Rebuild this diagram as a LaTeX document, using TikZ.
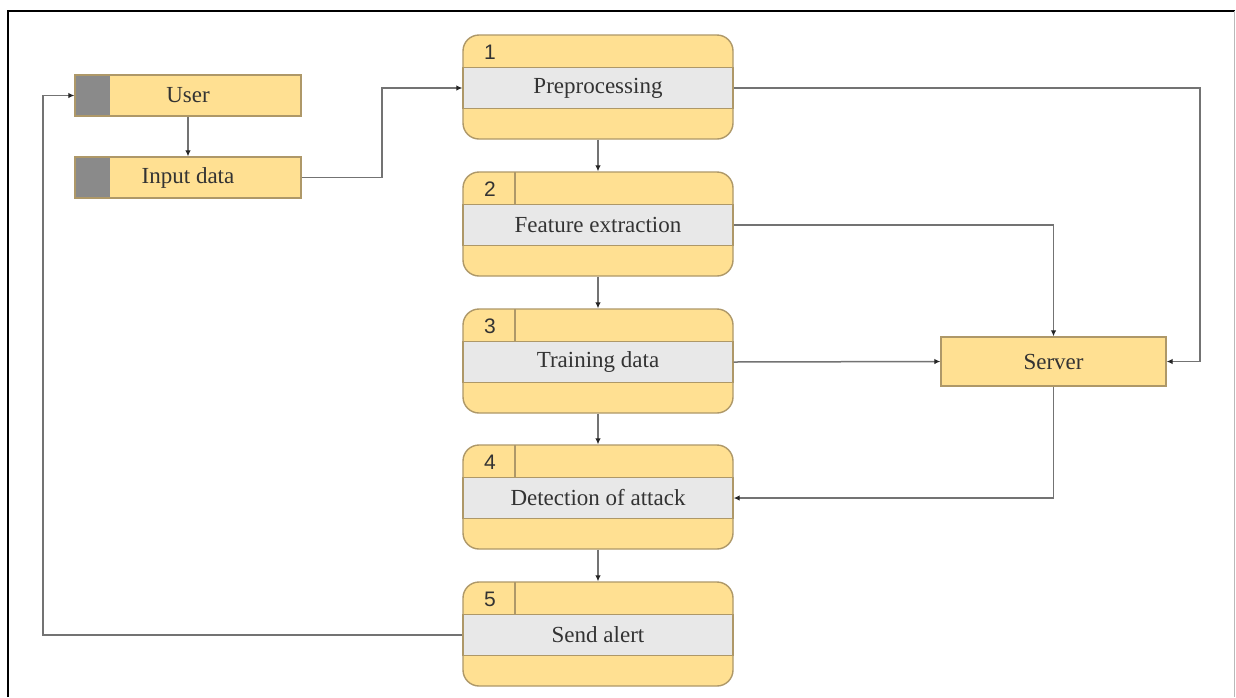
\documentclass[tikz,border=0pt]{standalone}
\usepackage{fontspec}
\setmainfont{Liberation Serif}
\newfontfamily\numfont{Liberation Sans}
\usetikzlibrary{arrows.meta}
\definecolor{boxyellow}{HTML}{FFE092}
\definecolor{boxgray}{HTML}{E8E8E8}
\definecolor{boxline}{HTML}{AE9868}
\definecolor{wire}{HTML}{737373}
\definecolor{tabgray}{HTML}{8A8A8A}
\definecolor{inktext}{HTML}{333333}
\tikzset{
  outerbox/.style={draw=boxline, line width=0.7pt, fill=boxyellow, rounded corners=8pt,
    minimum width=135pt, minimum height=52pt, inner sep=0pt},
  midband/.style={draw=boxline, line width=0.7pt, fill=boxgray, minimum width=135pt,
    minimum height=20.5pt, inner sep=0pt, text=inktext, font=\fontsize{11.5}{13}\selectfont},
  numlabel/.style={text=inktext, font=\numfont\fontsize{10.5}{12}\selectfont, inner sep=0pt},
  entity/.style={draw=boxline, line width=0.7pt, fill=boxyellow, minimum width=113pt,
    minimum height=20.5pt, inner sep=0pt, text=inktext, font=\fontsize{11.5}{13}\selectfont},
  serverbox/.style={draw=boxline, line width=0.7pt, fill=boxyellow, minimum width=112.5pt,
    minimum height=24.5pt, inner sep=0pt, text=inktext, font=\fontsize{11.5}{13}\selectfont},
  wireline/.style={draw=wire, line width=0.75pt,
    -{Latex[length=3pt,width=2.8pt,color=black!85]}},
}
% one numbered process: outer rounded box, middle band with the label, number tag
\newcommand{\procstep}[5]{% #1 name, #2 number, #3 centre y, #4 label, #5 divider (1/0)
  \node[outerbox] (b#1) at (598,#3) {};
  \node[midband] (p#1) at (598,#3+1) {#4};
  \node[numlabel] (n#1) at (490,#3-35) {#2};
  \ifnum#5=1
    \draw[boxline, line width=0.7pt] (515,#3-52) -- (515,#3-19.5);
  \fi
}
\begin{document}
\begin{tikzpicture}[x=0.5pt,y=-0.5pt]
  \useasboundingbox (0,0) rectangle (1236,697);
  \fill[white] (0,0) rectangle (1236,697);
  % frame
  \draw[black, line width=1pt] (7.5,697) -- (7.5,10.5) -- (1235,10.5);
  \draw[gray!55, line width=0.6pt] (1234.5,10.5) -- (1234.5,697);

  % external entities
  \node[entity] (user) at (188,95.5) {User};
  \fill[tabgray] (75,75) rectangle (110,116);
  \draw[boxline, line width=0.7pt] (75,75) rectangle (301,116);
  \node[entity] (input) at (188,177.5) {Input data};
  \fill[tabgray] (75,157) rectangle (110,198);
  \draw[boxline, line width=0.7pt] (75,157) rectangle (301,198);

  % process steps
  \procstep{1}{1}{87}{Preprocessing}{0}
  \procstep{2}{2}{224}{Feature extraction}{1}
  \procstep{3}{3}{361}{Training data}{1}
  \procstep{4}{4}{497}{Detection of attack}{1}
  \procstep{5}{5}{634}{Send alert}{1}

  % server
  \node[serverbox] (server) at (1053.5,361.5) {Server};

  % connectors
  \draw[wireline] (user.south) -- (input.north);
  \draw[wireline] (input.east) -- (382,177.5) |- (p1.west);
  \draw[wireline] (b1.south) -- (b2.north);
  \draw[wireline] (b2.south) -- (b3.north);
  \draw[wireline] (b3.south) -- (b4.north);
  \draw[wireline] (b4.south) -- (b5.north);
  \draw[wireline] (p1.east) -- (1200,88) |- (server.east);
  \draw[wireline] (p2.east) -| (server.north);
  \draw[wireline] (p3.east) -- (server.west);
  \draw[wireline] (server.south) |- (p4.east);
  \draw[wireline] (p5.west) -- (43,635) |- (user.west);
\end{tikzpicture}
\end{document}
